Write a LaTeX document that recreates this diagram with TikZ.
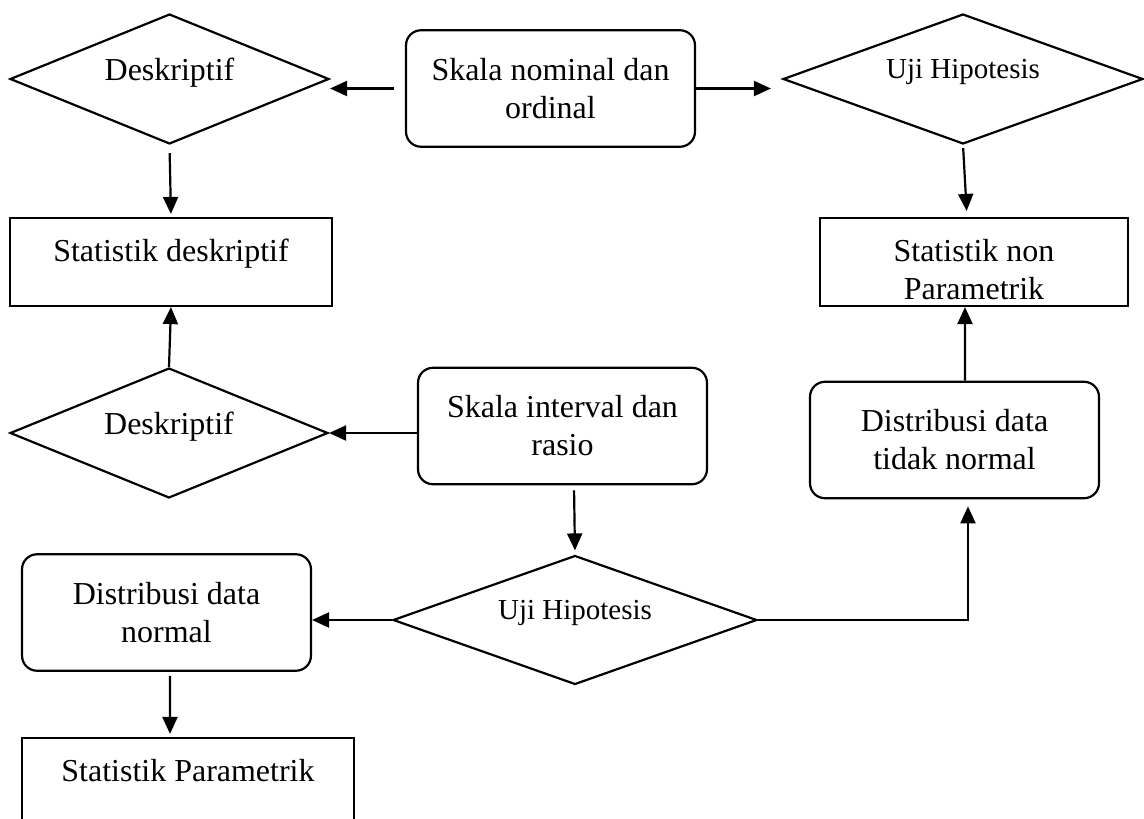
\documentclass[tikz,border=0pt]{standalone}
\usepackage{fontspec}
\setmainfont{Liberation Serif}
\usetikzlibrary{shapes.geometric,arrows.meta}

\begin{document}
\begin{tikzpicture}[x=0.02cm,y=-0.02cm,
  every node/.style={font=\fontsize{18.2}{21.6}\selectfont},
  choice/.style={draw,diamond,aspect=2.5,line width=1.25pt,inner sep=0pt,minimum height=2.6cm,text height=0.69em,text depth=0.47em},
  uji/.style={font=\fontsize{16.5}{19.8}\selectfont,text depth=0.7em},
  rbox/.style={draw,line width=1.25pt,rounded corners=0.3cm,align=center,minimum width=5.78cm,minimum height=2.33cm},
  pbox/.style={draw,line width=1.25pt,align=center,minimum height=1.76cm},
  arr/.style={-{Triangle[length=0.34cm,width=0.3cm]},line width=1.25pt}]
  \useasboundingbox (0,0) rectangle (1144,819);
  % top row
  \node[choice,minimum width=6.38cm] (desk1) at (169.5,79) {Deskriptif};
  \node[rbox] (nominal) at (550.5,88.5) {Skala nominal dan\\ordinal};
  \node[choice,uji,minimum width=7.2cm] (uji1) at (963,79) {Uji Hipotesis};
  \node[pbox,minimum width=6.44cm,text height=0.69em,text depth=0.75em] (statdesk) at (171,262) {Statistik deskriptif};
  \node[pbox,minimum width=6.16cm] (statnon) at (974,262) {\rule{0pt}{0.75cm}Statistik non\\Parametrik};
  % middle row
  \node[choice,minimum width=6.36cm] (desk2) at (169,433) {Deskriptif};
  \node[rbox] (interval) at (562.5,426) {Skala interval dan\\rasio};
  \node[rbox] (tidak) at (954.5,440) {Distribusi data\\tidak normal};
  % bottom row
  \node[choice,uji,minimum width=7.28cm,minimum height=2.58cm] (uji2) at (575,620) {Uji Hipotesis};
  \node[rbox] (normal) at (166.5,612.5) {Distribusi data\\normal};
  \node[pbox,minimum width=6.64cm,text height=0.69em,text depth=0.8em] (statpar) at (188,782) {Statistik Parametrik};
  % connectors
  \draw[arr,shorten <=0.22cm] (nominal.west) -- (desk1.east |- nominal.west);
  \draw[arr,shorten >=0.22cm] (nominal.east) -- (uji1.west |- nominal.east);
  \draw[arr,shorten <=0.16cm,shorten >=0.06cm] (desk1.south) -- (statdesk.north);
  \draw[arr,shorten <=0.06cm,shorten >=0.12cm] (uji1.south) -- ([xshift=-0.14cm]statnon.north);
  \draw[arr] (desk2.north) -- (statdesk.south);
  \draw[arr] (interval.west |- desk2.east) -- (desk2.east);
  \draw[arr,shorten <=0.1cm,shorten >=0.08cm] ([xshift=0.23cm]interval.south) -- (uji2.north);
  \draw[arr] (uji2.west) -- (uji2.west -| normal.east);
  \draw[arr,shorten >=0.14cm] (uji2.east) -| ([xshift=0.27cm]tidak.south);
  \draw[arr] ([xshift=0.21cm]tidak.north) -- ([xshift=-0.18cm]statnon.south);
  \draw[arr,shorten <=0.08cm,shorten >=0.06cm] ([xshift=0.07cm]normal.south) -- ([xshift=-0.36cm]statpar.north);
\end{tikzpicture}
\end{document}
